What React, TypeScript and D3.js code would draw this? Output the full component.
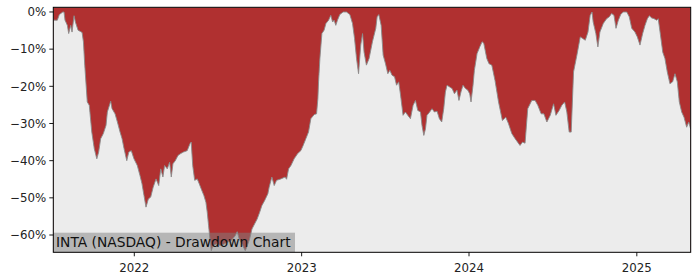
import React from "react";
import * as d3 from "d3";

// Decimal-year time stamps
const times: number[] = [
  2021.516, 2021.54, 2021.552, 2021.573, 2021.58, 2021.586, 2021.6, 2021.608, 2021.62, 2021.628,
  2021.64, 2021.648, 2021.664, 2021.676, 2021.688, 2021.696, 2021.704, 2021.719, 2021.731, 2021.746,
  2021.761, 2021.776, 2021.787, 2021.799, 2021.815, 2021.831, 2021.839, 2021.859, 2021.867, 2021.885,
  2021.899, 2021.915, 2021.927, 2021.939, 2021.955, 2021.967, 2021.982, 2021.998, 2022.018, 2022.034,
  2022.046, 2022.058, 2022.07, 2022.084, 2022.098, 2022.113, 2022.13, 2022.146, 2022.158, 2022.171,
  2022.181, 2022.197, 2022.211, 2022.221, 2022.231, 2022.245, 2022.261, 2022.277, 2022.293, 2022.316,
  2022.333, 2022.34, 2022.349, 2022.361, 2022.376, 2022.388, 2022.4, 2022.416, 2022.428, 2022.436,
  2022.444, 2022.452, 2022.46, 2022.47, 2022.49, 2022.519, 2022.549, 2022.579, 2022.603, 2022.615,
  2022.627, 2022.643, 2022.663, 2022.675, 2022.689, 2022.703, 2022.719, 2022.734, 2022.749, 2022.762,
  2022.779, 2022.798, 2022.806, 2022.822, 2022.836, 2022.85, 2022.876, 2022.901, 2022.91, 2022.922,
  2022.936, 2022.955, 2022.976, 2022.995, 2023.009, 2023.025, 2023.041, 2023.055, 2023.075, 2023.089,
  2023.097, 2023.101, 2023.109, 2023.121, 2023.134, 2023.145, 2023.161, 2023.174, 2023.185, 2023.194,
  2023.204, 2023.214, 2023.228, 2023.248, 2023.268, 2023.288, 2023.304, 2023.316, 2023.328, 2023.34,
  2023.353, 2023.364, 2023.373, 2023.387, 2023.403, 2023.423, 2023.443, 2023.451, 2023.461, 2023.475,
  2023.487, 2023.501, 2023.515, 2023.527, 2023.54, 2023.555, 2023.567, 2023.58, 2023.59, 2023.606,
  2023.62, 2023.634, 2023.65, 2023.666, 2023.68, 2023.694, 2023.71, 2023.719, 2023.73, 2023.74,
  2023.749, 2023.765, 2023.779, 2023.793, 2023.809, 2023.823, 2023.837, 2023.849, 2023.859, 2023.869,
  2023.885, 2023.899, 2023.913, 2023.928, 2023.94, 2023.952, 2023.964, 2023.979, 2023.992, 2024.004,
  2024.012, 2024.024, 2024.032, 2024.048, 2024.064, 2024.078, 2024.088, 2024.106, 2024.119, 2024.136,
  2024.155, 2024.176, 2024.199, 2024.219, 2024.235, 2024.255, 2024.275, 2024.304, 2024.319, 2024.334,
  2024.35, 2024.374, 2024.394, 2024.41, 2024.43, 2024.446, 2024.464, 2024.484, 2024.504, 2024.518,
  2024.537, 2024.553, 2024.57, 2024.583, 2024.597, 2024.609, 2024.623, 2024.643, 2024.663, 2024.677,
  2024.693, 2024.709, 2024.722, 2024.733, 2024.74, 2024.756, 2024.768, 2024.78, 2024.8, 2024.82,
  2024.836, 2024.85, 2024.864, 2024.876, 2024.89, 2024.904, 2024.919, 2024.94, 2024.955, 2024.97,
  2024.989, 2025.003, 2025.019, 2025.035, 2025.049, 2025.063, 2025.075, 2025.089, 2025.103, 2025.119,
  2025.128, 2025.139, 2025.155, 2025.168, 2025.182, 2025.198, 2025.214, 2025.228, 2025.242, 2025.254,
  2025.268, 2025.282, 2025.298, 2025.31, 2025.322,
];

// Drawdown in percent
const drawdown: number[] = [
  -2.2, -2.2, -0.7, 0, 0, -2.2, -3.6, -5.8, -3.6, -5.4,
  -1, -2.7, -4.9, -5.2, -5.5, -8, -14.3, -24.2, -25.1, -32.3,
  -36.8, -39.5, -37.7, -34.1, -32.7, -30.5, -26.9, -24, -26, -27.4,
  -29.6, -32.3, -34.1, -36.8, -40, -37.7, -37.3, -39.5, -41.3, -44,
  -46.2, -49.4, -52.5, -50.3, -49.8, -47.1, -44.9, -46.7, -42.2, -44.4,
  -41.3, -42.2, -40.4, -44.4, -40.8, -40, -38.6, -38.1, -37.7, -37.3,
  -35.4, -35, -41.3, -45.3, -44.9, -46.2, -47.6, -49.4, -51.2, -53.9,
  -57.5, -61.1, -64.2, -62.9, -62.4, -62.9, -62.1, -61.5, -60.2, -59.1,
  -61.1, -62.4, -64.2, -62.9, -61.1, -58.4, -57, -55.7, -53.9, -52.1,
  -50.7, -48.9, -47.1, -44.4, -46.7, -45.3, -44.9, -44.4, -45, -42.2,
  -41.3, -39.5, -38.1, -37.3, -35.9, -34.1, -32.3, -28.7, -27.6, -27.4,
  -23.3, -18.8, -12.5, -5.8, -4.9, -3.1, -2.2, -0.9, -2.7, -2.2,
  -3.6, -2.2, -0.7, 0, 0, -0.7, -3.1, -7.1, -12.5, -16.6,
  -8.9, -5.8, -10.8, -14.3, -12.5, -8, -4.4, -1.3, -0.7, -3.6,
  -11.6, -13.9, -16.6, -15.7, -17, -17.4, -19.7, -18.8, -22, -27.8,
  -26.9, -27.8, -28.7, -25.1, -23.8, -26.5, -26.9, -30.5, -33.2, -31.4,
  -27.8, -26.9, -26, -26.9, -26.7, -28.7, -29.6, -26, -21.5, -19.7,
  -20.2, -20.6, -22, -21, -23.8, -21.5, -19.7, -20.6, -21, -22,
  -24.2, -19.7, -15.7, -11.2, -9.4, -8, -8.4, -12.5, -13.9, -14.3,
  -18.4, -24.2, -29.2, -28.3, -30, -32.7, -34.1, -35.9, -35, -35.3,
  -26, -23.8, -23.8, -25.1, -27.4, -27.4, -29.6, -27.8, -24.7, -27.8,
  -26.5, -25.1, -24.2, -26.9, -32.3, -32.3, -16.1, -11.6, -6.7, -7.1,
  -7.6, -5.4, -0.9, 0, -2.7, -5.8, -9.4, -5.4, -3.1, -1.8,
  -1.3, -0.4, -0.9, -4.4, -2.2, -0.7, 0, 0, -1.3, -4.4,
  -5.4, -6.7, -8.9, -5.8, -3.6, -1.8, -1, -1.6, -1.8, -2.2,
  -1.8, -5.4, -10.8, -12.5, -16.1, -19.3, -18.8, -16.6, -18.8, -24.2,
  -26.9, -28.3, -31, -29.6, -31.5,
];

const yTicks: number[] = [0, -10, -20, -30, -40, -50, -60];
const yDomain: number[] = [-64.65, 1.26];
const title = "INTA (NASDAQ) - Drawdown Chart";

function yearToDate(t: number): Date {
  const y = Math.floor(t);
  const a = Date.UTC(y, 0, 1);
  const b = Date.UTC(y + 1, 0, 1);
  return new Date(a + (t - y) * (b - a));
}

const W = 700;
const H = 280;
const M = { left: 53.3, right: 9.3, top: 7.3, bottom: 27.7 };
const FONT = "DejaVu Sans, sans-serif";

export default function App() {
  const data = times.map((t, i) => ({ date: yearToDate(t), v: drawdown[i] }));
  const x0 = M.left, x1 = W - M.right, y0 = M.top, y1 = H - M.bottom;

  const x = d3.scaleUtc()
    .domain(d3.extent(data, (d) => d.date) as [Date, Date])
    .range([x0, x1]);
  const y = d3.scaleLinear().domain(yDomain).range([y1, y0]);

  const area = d3.area<{ date: Date; v: number }>()
    .x((d) => x(d.date))
    .y0(y1)
    .y1((d) => y(d.v));
  const line = d3.line<{ date: Date; v: number }>()
    .x((d) => x(d.date))
    .y((d) => y(d.v));

  const xTicks = x.ticks(d3.utcYear.every(1) as any);
  const fmt = d3.utcFormat("%Y");
  const pct = (v: number) => (v < 0 ? "\u2212" + Math.abs(v) : String(v)) + "%";

  return (
    <svg width={W} height={H} style={{ position: "absolute", left: 0, top: 0, background: "#fff" }}>
      <defs>
        <clipPath id="plot">
          <rect x={x0} y={y0} width={x1 - x0} height={y1 - y0} />
        </clipPath>
      </defs>
      <g clipPath="url(#plot)">
        <rect x={x0} y={y0} width={x1 - x0} height={y1 - y0} fill="#b03030" />
        <path d={area(data) || ""} fill="#ececec" />
        <path d={line(data) || ""} fill="none" stroke="#8a8a8a" strokeWidth={0.9} />
        <rect x={x0} y={232.7} width={241.7} height={y1 - 232.7 + 2} fill="#808080" fillOpacity={0.5} />
        <text x={x0 + 2.7} y={247.3} fontFamily={FONT} fontSize={13.8} fill="#111">{title}</text>
      </g>
      <rect x={x0} y={y0} width={x1 - x0} height={y1 - y0} fill="none" stroke="#000" strokeWidth={1} />
      {yTicks.map((t) => (
        <g key={"y" + t}>
          <line x1={x0 - 4} x2={x0} y1={y(t)} y2={y(t)} stroke="#000" strokeWidth={0.9} />
          <text x={x0 - 7} y={y(t)} dy="0.36em" textAnchor="end" fontFamily={FONT} fontSize={11.8} fill="#222">
            {pct(t)}
          </text>
        </g>
      ))}
      {xTicks.map((t) => (
        <g key={"x" + +t}>
          <line x1={x(t)} x2={x(t)} y1={y1} y2={y1 + 4} stroke="#000" strokeWidth={0.9} />
          <text x={x(t)} y={271.7} textAnchor="middle" fontFamily={FONT} fontSize={11.8} fill="#222">
            {fmt(t)}
          </text>
        </g>
      ))}
    </svg>
  );
}
